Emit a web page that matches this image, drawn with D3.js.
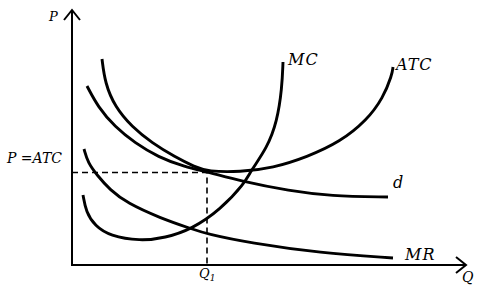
<!DOCTYPE html>
<html>
<head>
<meta charset="utf-8">
<script src="https://cdn.jsdelivr.net/npm/d3@7"></script>
<style>
    body { margin: 0; background: #fff; }
    .curve { fill: none; stroke: #000; stroke-width: 2.9; stroke-linecap: butt; }
    .axis { fill: none; stroke: #000; stroke-width: 2; }
    .guide { fill: none; stroke: #000; stroke-width: 1.6; stroke-dasharray: 6,4; }
    text { font-family: "DejaVu Serif", "Liberation Serif", serif; font-style: italic; fill: #000; }
</style>
</head>
<body>
<svg class="chart"></svg>
<script>
// data (arbitrary quantity / price units)
var atcQ = [30, 33, 43, 60, 80, 103, 123, 136, 168, 201, 235, 268, 295, 311, 320, 321];
var atcP = [206, 182, 158, 138, 122, 108, 98, 93.5, 93, 97, 108, 123, 145, 167, 190, 198];

var demandQ = [15, 26, 43, 63, 86, 113, 136, 168, 218, 258, 316];
var demandP = [179, 158, 138, 122, 108, 98, 93, 84, 74, 69, 68];

var mcQ = [11, 14, 23, 38, 68, 93, 120, 148, 173, 178, 195, 205, 210, 211];
var mcP = [70, 53, 39, 29, 24, 27, 36, 55, 82, 93, 117, 143, 177, 203];

var mrQ = [12, 16, 25, 38, 55, 88, 120, 135, 178, 248, 321];
var mrP = [116, 102, 90, 75, 62, 47, 36, 31, 22, 12, 7];

var q1 = 135;
var pAtc = 92.5;
var qMax = 394;
var pMax = 255;

(function () {
    var width = 485;
    var height = 290;

    var x = d3.scaleLinear().domain([0, qMax]).range([72, 466]);
    var y = d3.scaleLinear().domain([0, pMax]).range([265, 10]);

    var svg = d3.select('.chart')
        .attr('width', width)
        .attr('height', height);

    // zip two arrays into points
    function pts(qs, ps) {
        return qs.map(function (q, i) { return [q, ps[i]]; });
    }

    var line = d3.line()
        .x(function (d) { return x(d[0]); })
        .y(function (d) { return y(d[1]); })
        .curve(d3.curveBasis);

    // dashed guides at Q1 / P=ATC
    svg.append('path')
        .attr('class', 'guide')
        .attr('d', d3.line()([[x(0), y(pAtc)], [x(q1), y(pAtc)], [x(q1), y(0)]]));

    // curves
    var curves = [
        { name: 'ATC', data: pts(atcQ, atcP) },
        { name: 'd', data: pts(demandQ, demandP) },
        { name: 'MC', data: pts(mcQ, mcP) },
        { name: 'MR', data: pts(mrQ, mrP) }
    ];

    svg.selectAll('.curve')
        .data(curves)
        .enter().append('path')
            .attr('class', 'curve')
            .attr('d', function (d) { return line(d.data); });

    // axes with open arrow heads
    svg.append('path')
        .attr('class', 'axis')
        .attr('d', 'M' + x(0) + ',' + y(pMax) + 'V' + y(0) + 'H' + x(qMax));
    svg.append('path')
        .attr('class', 'axis')
        .attr('d', 'M' + (x(0) - 8) + ',' + (y(pMax) + 10) + 'L' + x(0) + ',' + y(pMax) + 'L' + (x(0) + 8) + ',' + (y(pMax) + 10));
    svg.append('path')
        .attr('class', 'axis')
        .attr('d', 'M' + (x(qMax) - 10) + ',' + (y(0) - 8) + 'L' + x(qMax) + ',' + y(0) + 'L' + (x(qMax) - 10) + ',' + (y(0) + 8));

    // curve labels, placed next to the curve ends
    var labels = [
        { text: 'MC', q: mcQ[mcQ.length - 1], p: mcP[mcP.length - 1], dx: 5, dy: 3 },
        { text: 'ATC', q: atcQ[atcQ.length - 1], p: atcP[atcP.length - 1], dx: 3, dy: 3 },
        { text: 'd', q: demandQ[demandQ.length - 1], p: demandP[demandP.length - 1], dx: 5, dy: -9 },
        { text: 'MR', q: mrQ[mrQ.length - 1], p: mrP[mrP.length - 1], dx: 12, dy: 2 }
    ];

    svg.selectAll('.label')
        .data(labels)
        .enter().append('text')
            .attr('class', 'label')
            .attr('x', function (d) { return x(d.q) + d.dx; })
            .attr('y', function (d) { return y(d.p) + d.dy; })
            .style('font-size', '16px')
            .style('letter-spacing', '1px')
            .text(function (d) { return d.text; });

    // axis titles
    svg.append('text')
        .attr('x', x(0) - 23)
        .attr('y', y(pMax) + 11)
        .style('font-size', '13px')
        .text('P');
    svg.append('text')
        .attr('x', x(qMax) - 4)
        .attr('y', y(0) + 17)
        .style('font-size', '14px')
        .text('Q');
    svg.append('text')
        .attr('x', 7)
        .attr('y', y(pAtc) - 10)
        .style('font-size', '14px')
        .text('P =ATC');

    var q1Label = svg.append('text')
        .attr('x', x(q1) - 8)
        .attr('y', y(0) + 13)
        .style('font-size', '13px')
        .text('Q');
    q1Label.append('tspan')
        .attr('dy', 3)
        .style('font-size', '9px')
        .text('1');
}());
</script>
</body>
</html>
